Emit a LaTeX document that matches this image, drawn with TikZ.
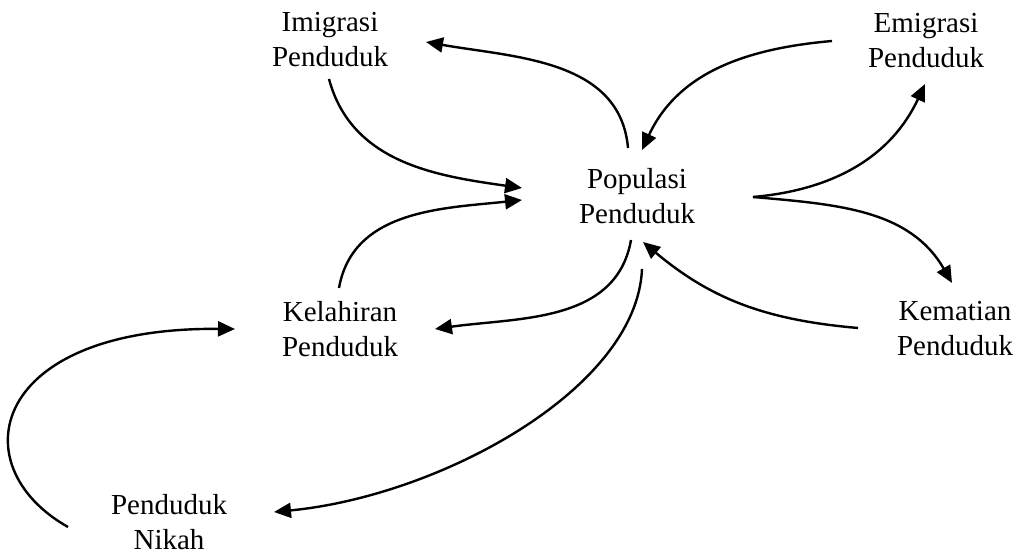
\documentclass[tikz,border=0pt]{standalone}
\usepackage{fontspec}
\setmainfont{Liberation Serif}
\usetikzlibrary{arrows.meta,calc}

\begin{document}
\begin{tikzpicture}[x=0.5pt, y=0.5pt,
  var/.style={align=center, inner sep=0pt, font=\fontsize{14.5}{17.5}\selectfont},
  flow/.style={line width=1.2pt, -{Triangle[length=8.5pt, width=7.5pt]}}]
  \useasboundingbox (0,0) rectangle (1017,557);

  % variables
  \node[var] (pop) at (637,361) {Populasi\\Penduduk};
  \node[var] (imi) at (330,517) {Imigrasi\\Penduduk};
  \node[var] (emi) at (926,516) {Emigrasi\\Penduduk};
  \node[var] (kel) at (340,228) {Kelahiran\\Penduduk};
  \node[var] (kem) at (955,228) {Kematian\\Penduduk};
  \node[var] (nik) at (169,35) {Penduduk\\Nikah};

  % top half: migration
  \draw[flow] ($(pop)+(-9,48)$) to[out=95,in=-10] ($(imi)+(96,-2)$);
  \draw[flow] ($(imi)+(-1,-39)$) to[out=-75,in=172] ($(pop)+(-115,8)$);
  \draw[flow] ($(emi)+(-94,0)$) to[out=185,in=65] ($(pop)+(5,46)$);
  \draw[flow] ($(pop)+(116,-1)$) to[out=5,in=-115] ($(emi)+(-1,-43)$);

  % bottom half: births and deaths
  \draw[flow] ($(kel)+(-1,41)$) to[out=80,in=186] ($(pop)+(-115,-4)$);
  \draw[flow] ($(pop)+(-6,-44)$) to[out=-100,in=8] ($(kel)+(95,0)$);
  \draw[flow] ($(pop)+(116,-1)$) to[out=-5,in=120] ($(kem)+(-3,46)$);
  \draw[flow] ($(kem)+(-97,1)$) to[out=175,in=-40] ($(pop)+(6,-46)$);

  % marriage loop
  \draw[flow] ($(pop)+(5,-73)$) .. controls +(-5,-120) and +(166,16) .. ($(nik)+(105,10)$);
  \draw[flow] ($(nik)+(-101,-5)$) .. controls +(-108,61) and +(-245,2) .. ($(kel)+(-105,0)$);
\end{tikzpicture}
\end{document}
